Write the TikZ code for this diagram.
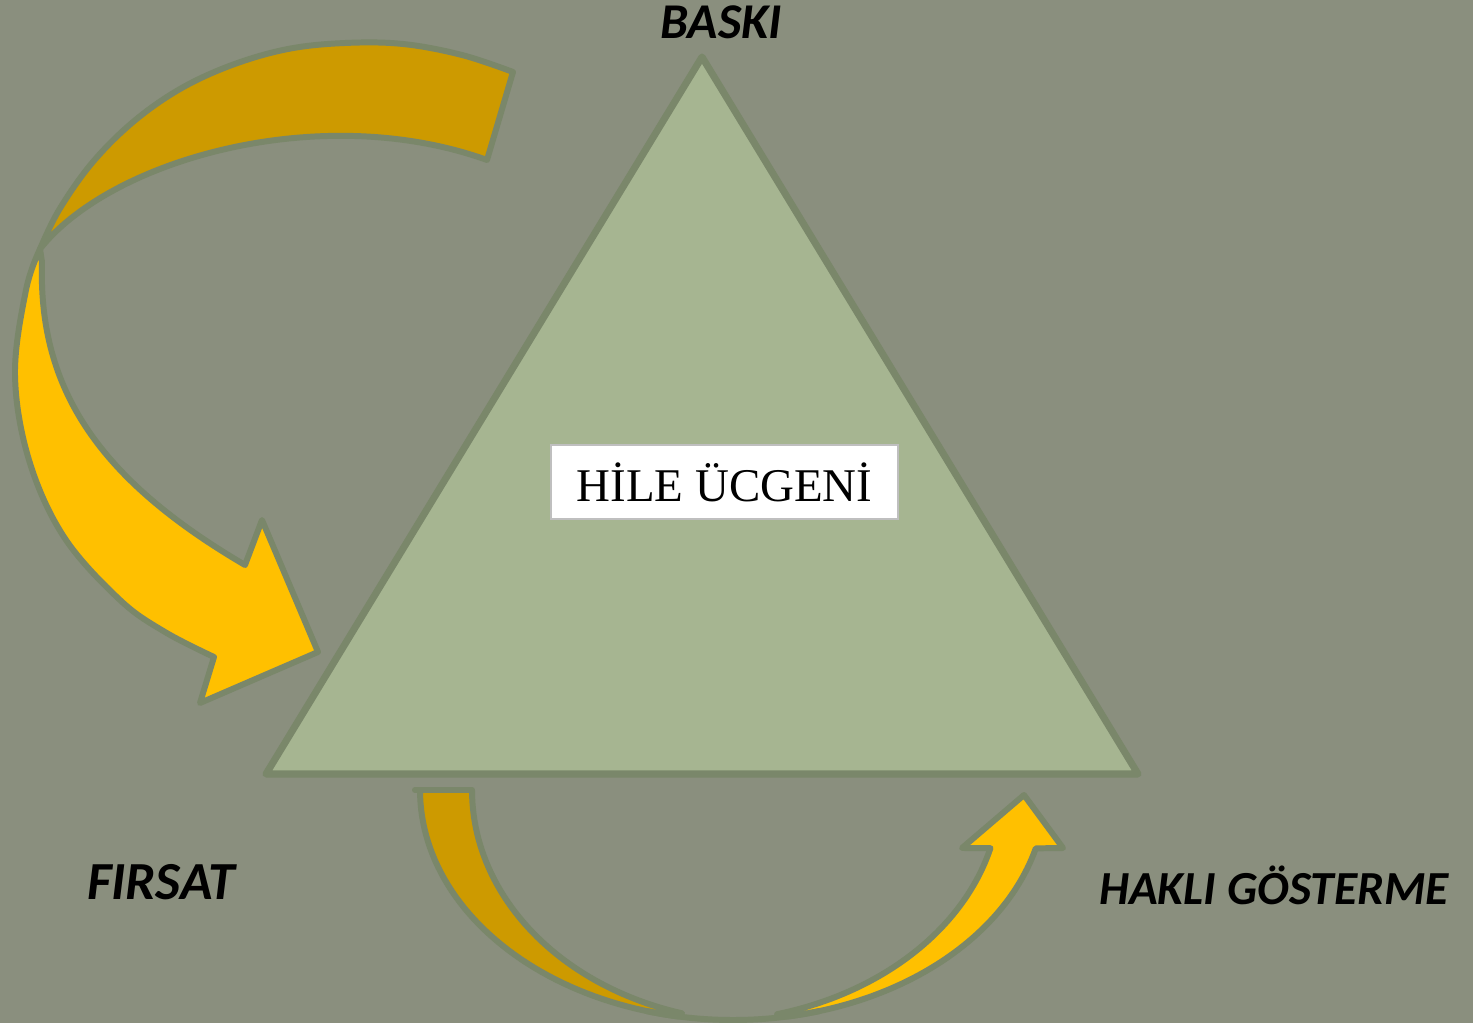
\documentclass[tikz,border=0pt]{standalone}
\usepackage{fontspec}
\setmainfont{Liberation Serif}
\newfontfamily\labelfont{Carlito}
\definecolor{bgcol}{RGB}{138,143,126}
\definecolor{trifill}{RGB}{166,181,145}
\definecolor{edgecol}{RGB}{122,135,106}
\definecolor{darkgold}{RGB}{205,154,0}
\definecolor{brightgold}{RGB}{255,192,0}
\definecolor{boxedge}{RGB}{191,191,191}
\tikzset{
  tri/.style={fill=trifill, draw=edgecol, line width=4pt, line join=round},
  backband/.style={fill=darkgold, draw=edgecol, line width=3.4pt, line join=round},
  frontband/.style={fill=brightgold, draw=edgecol, line width=3.4pt, line join=round},
  bandedge/.style={draw=edgecol, line width=3.4pt, line cap=round},
  corner/.style={font={\labelfont\bfseries\itshape\fontsize{#1}{#1}\selectfont}, text=black, inner sep=0pt},
  titlebox/.style={fill=white, draw=boxedge, line width=1pt, minimum width=6.94cm, minimum height=1.48cm,
    font=\fontsize{26.7}{30}\selectfont, inner sep=0pt}
}
\begin{document}
\begin{tikzpicture}[x=0.02cm, y=-0.02cm]
\fill[bgcol] (0,0) rectangle (1473,1023);
\useasboundingbox (0,0) rectangle (1473,1023);

% triangle
\coordinate (apex) at (702,57);
\coordinate (bl) at (266,774);
\coordinate (br) at (1138,774);
\draw[tri] (apex) -- (bl) -- (br) -- cycle;

% top-left curved arrow: back (dark) part
\filldraw[backband] (487,160) .. controls (320,100) and (110,160) .. (40,249)
  -- plot[smooth, tension=0.6] coordinates {(40,249) (59,210) (92,163) (133,122) (180,89) (232,65) (288,49) (345,43) (403,44) (462,55) (513,72)}
  -- cycle;
% top-left curved arrow: front (bright) part
\filldraw[frontband] plot[smooth, tension=0.6] coordinates {(40,249) (26,290) (15,375) (29,460) (64,537) (120,600) (165,632) (214,657)}
  -- (200,703) -- (318,652) -- (262,520) -- (245,565)
  .. controls (100,480) and (38,390) .. (42,262) -- cycle;

% bottom curved arrow: back (dark) part
\filldraw[backband] (415,790) -- (472,790)
  -- plot[domain=180:105.7, samples=50, variable=\t] ({760+288*cos(\t)}, {790+232*sin(\t)})
  -- plot[domain=100:180, samples=50, variable=\t] ({733+313*cos(\t)}, {790+230*sin(\t)})
  -- cycle;
% bottom curved arrow: front (bright) part
\filldraw[frontband] plot[domain=80:14.7, samples=50, variable=\t] ({733+313*cos(\t)}, {790+230*sin(\t)})
  -- (1063,848) -- (1024,795) -- (962,848)
  -- plot[domain=14.5:75.1, samples=50, variable=\t] ({700+300*cos(\t)}, {790+232*sin(\t)})
  -- cycle;
% continuous outer edge along the bottom of the curved arrow
\draw[bandedge] plot[domain=106:74, samples=30, variable=\t] ({733+313*cos(\t)}, {790+230*sin(\t)});

% title box
\node[titlebox] (title) at (724.5,482) {HİLE ÜCGENİ};

% corner labels
\node[corner=28.5] (baski) at (721,22) {BASKI};
\node[corner=30.5] (firsat) at (161,882) {FIRSAT};
\node[corner=27] (hakli) at (1274,885) {HAKLI GÖSTERME};
\end{tikzpicture}
\end{document}
